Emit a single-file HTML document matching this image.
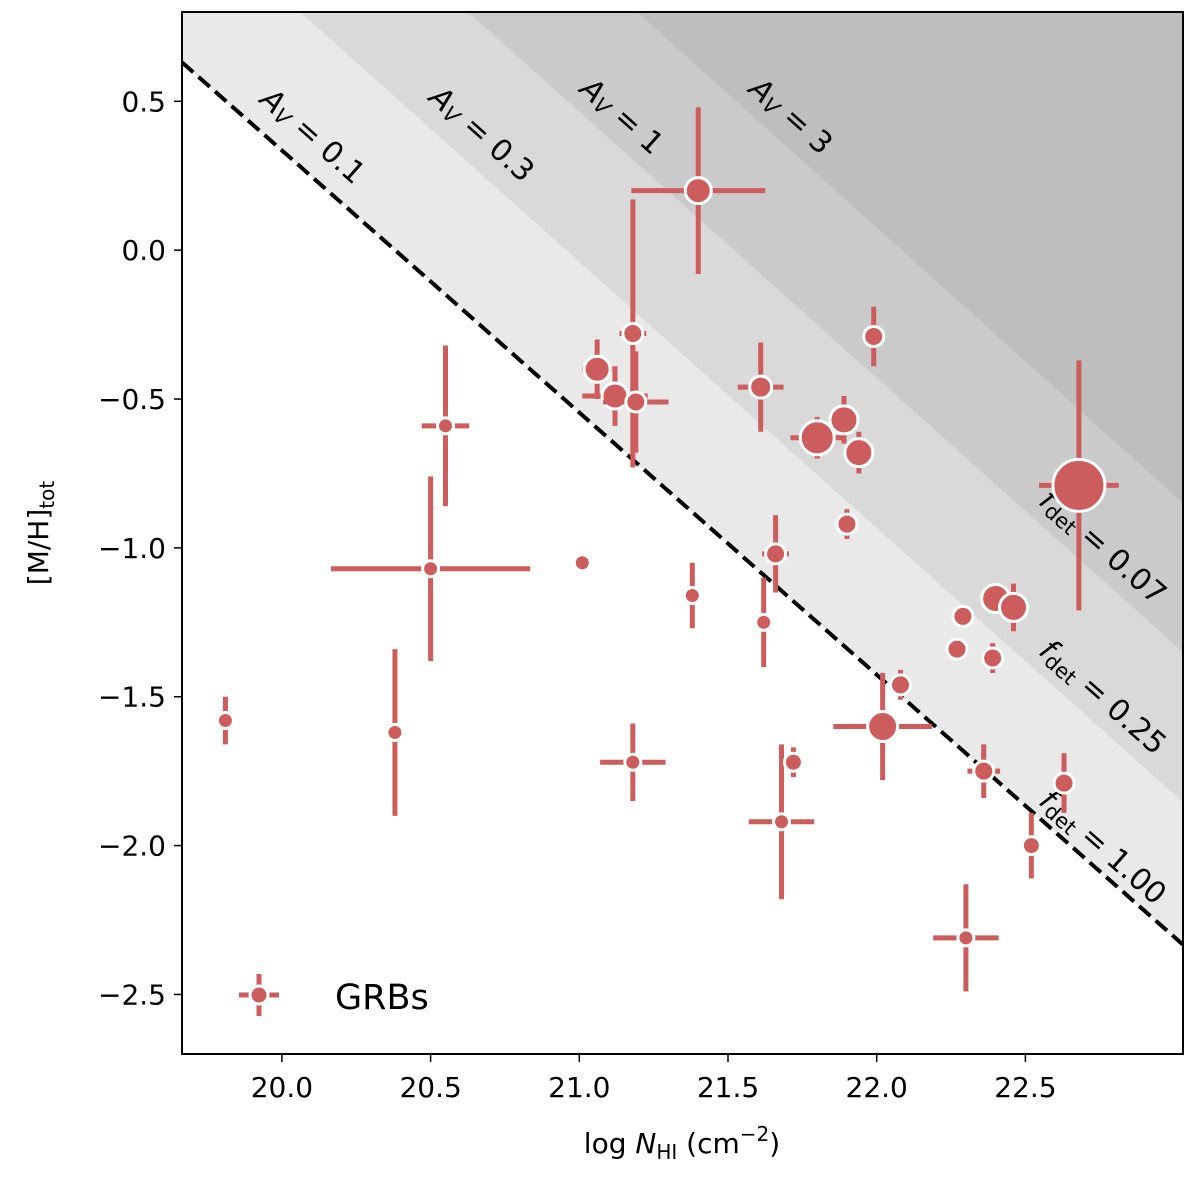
<!DOCTYPE html>
<html><head><meta charset="utf-8"><style>
html,body{margin:0;padding:0;background:#fff;}
svg{display:block;font-family:"DejaVu Sans","Liberation Sans",sans-serif;}
</style></head><body>
<svg id="chart" width="1200" height="1179" viewBox="0 0 1200 1179" xmlns="http://www.w3.org/2000/svg">
<g id="shading"></g>
<g id="refline"></g>
<g id="labels"></g>
<g id="series"></g>
<g id="axes"></g>
</svg>
<script>
// ---- data ----
const xVals = [19.81,20.38,20.50,20.55,21.01,21.06,21.12,21.18,21.19,21.40,21.61,21.99,21.80,21.89,21.94,21.90,21.38,21.62,21.66,21.18,21.68,21.72,22.02,22.08,22.29,22.27,22.40,22.46,22.39,22.36,22.63,22.52,22.30,22.68];
const yVals = [-1.58,-1.62,-1.07,-0.59,-1.05,-0.40,-0.49,-0.28,-0.51,0.20,-0.46,-0.29,-0.63,-0.57,-0.68,-0.92,-1.16,-1.25,-1.02,-1.72,-1.92,-1.72,-1.60,-1.46,-1.23,-1.34,-1.17,-1.20,-1.37,-1.75,-1.79,-2.00,-2.31,-0.79];
const xErr = [0,0,0.335,0.08,0,0.05,0.11,0.045,0.11,0.225,0.077,0,0.09,0,0,0,0,0,0.045,0.11,0.11,0,0.166,0,0,0,0,0,0,0.055,0,0,0.11,0.134];
const yErr = [0.08,0.28,0.31,0.27,0,0.10,0.10,0.45,0.17,0.28,0.15,0.10,0.07,0.08,0.07,0.05,0.11,0.15,0.13,0.13,0.26,0.05,0.18,0.05,0,0,0.05,0.08,0.05,0.09,0.10,0.11,0.18,0.42];
const markerSize = [8,8,8,8,8,13,13,10,10,13,11,10,17,14,14,10,8,8,10,8,8,9,15,10,10,10,14,14,10,10,10,9,8,26];
const xTicks = [20.0,20.5,21.0,21.5,22.0,22.5];
const xTickLabels = ["20.0","20.5","21.0","21.5","22.0","22.5"];
const yTicks = [0.5,0.0,-0.5,-1.0,-1.5,-2.0,-2.5];
const yTickLabels = ["0.5","0.0","\u22120.5","\u22121.0","\u22121.5","\u22122.0","\u22122.5"];
// boundary lines (data coords): [x1,y1,x2,y2]
const dashedLine = [19.664,0.631,23.029,-2.332];
const bandLines = [[20.061,0.8,23.030,-1.854],[20.626,0.8,23.030,-1.350],[21.194,0.8,23.030,-0.849]];
const shadeColors = ["#d9d9d9","#cacaca","#bebebe"];

// ---- scales ----
const L=182,R=1183,T=12,B=1054, X0=19.664,X1=23.03,Y0=-2.7,Y1=0.8;
const sx = v => L+(v-X0)/(X1-X0)*(R-L);
const sy = v => T+(Y1-v)/(Y1-Y0)*(B-T);
const NS="http://www.w3.org/2000/svg";
function mk(tag, attrs, parent){const e=document.createElementNS(NS,tag);for(const k in attrs)e.setAttribute(k,attrs[k]);parent.appendChild(e);return e;}
const RED="#cd5c5c";

function clip(poly, line){
  const ax=sx(line[0]),ay=sy(line[1]),bx=sx(line[2]),by=sy(line[3]);
  const side=(p)=> (bx-ax)*(p[1]-ay)-(by-ay)*(p[0]-ax);
  const ref=side([R,T]);
  const inside=p=>side(p)*ref>=0;
  const out=[];
  for(let i=0;i<poly.length;i++){
    const c=poly[i],n=poly[(i+1)%poly.length];
    const ci=inside(c),ni=inside(n);
    if(ci)out.push(c);
    if(ci!==ni){const s1=side(c),s2=side(n),t=s1/(s1-s2);out.push([c[0]+t*(n[0]-c[0]),c[1]+t*(n[1]-c[1])]);}
  }
  return out;
}
const rect=[[L,T],[R,T],[R,B],[L,B]];
const sh=document.getElementById('shading');
let p0=clip(rect,dashedLine);
const base=mk('polygon',{points:p0.map(p=>p.join(',')).join(' '),fill:'#e9e9e9'},sh);


for(let i=0;i<3;i++){
  let p=clip(rect,bandLines[i]);
  const e=mk('polygon',{points:p.map(q=>q.join(',')).join(' '),fill:shadeColors[i]},sh);
  
  
}
const dl=mk('line',{x1:sx(dashedLine[0]),y1:sy(dashedLine[1]),x2:sx(dashedLine[2]),y2:sy(dashedLine[3]),stroke:'#000','stroke-width':4,'stroke-dasharray':'15,7'},document.getElementById('refline'));



// labels
const lab=document.getElementById('labels');
function avLabel(cx,cy,val,name){
  const t=mk('text',{x:cx,y:cy,'font-size':30,'text-anchor':'middle','dominant-baseline':'middle',transform:`rotate(41.5 ${cx} ${cy})`,fill:'#000'},lab);
  
  
  t.innerHTML='<tspan font-style="italic">A</tspan><tspan font-size="21" font-style="italic" baseline-shift="-6">V</tspan> = '+val;
}
avLabel(312,137,'0.1','av-0.1-label');
avLabel(481,135,'0.3','av-0.3-label');
avLabel(621,117,'1','av-1-label');
avLabel(790,117,'3','av-3-label');
function fLabel(cx,cy,val,name){
  const t=mk('text',{x:cx,y:cy,'font-size':30,'text-anchor':'middle','dominant-baseline':'middle',transform:`rotate(41.4 ${cx} ${cy})`,fill:'#000'},lab);
  
  
  t.innerHTML='<tspan font-style="italic">f</tspan><tspan font-size="21" baseline-shift="-7">det</tspan> = '+val;
}
fLabel(1102,548,'0.07','fdet-0.07-label');
fLabel(1102,698,'0.25','fdet-0.25-label');
fLabel(1102,848,'1.00','fdet-1.00-label');

// series
const ser=document.getElementById('series');
for(let i=0;i<xVals.length;i++){
  const g=mk('g',{},ser);
  
  
  const cx=sx(xVals[i]),cy=sy(yVals[i]);
  if(xErr[i]>0)mk('line',{x1:sx(xVals[i]-xErr[i]),y1:cy,x2:sx(xVals[i]+xErr[i]),y2:cy,stroke:RED,'stroke-width':5},g);
  if(yErr[i]>0)mk('line',{x1:cx,y1:sy(yVals[i]+yErr[i]),x2:cx,y2:sy(yVals[i]-yErr[i]),stroke:RED,'stroke-width':5},g);
  mk('circle',{cx:cx,cy:cy,r:markerSize[i],fill:RED,stroke:'#fff','stroke-width':3},g);
}

// axes
const ax=document.getElementById('axes');
const fr=mk('rect',{x:L,y:T,width:R-L,height:B-T,fill:'none',stroke:'#000','stroke-width':2},ax);


xTicks.forEach((v,i)=>{
  const x=sx(v);
  mk('line',{x1:x,y1:B,x2:x,y2:B+8,stroke:'#000','stroke-width':1.5},ax);
  const t=mk('text',{x:x,y:B+43,'font-size':28,'text-anchor':'middle'},ax);
  
  
  t.textContent=xTickLabels[i];
});
yTicks.forEach((v,i)=>{
  const y=sy(v);
  mk('line',{x1:L-8,y1:y,x2:L,y2:y,stroke:'#000','stroke-width':1.5},ax);
  const t=mk('text',{x:L-16,y:y+10,'font-size':28,'text-anchor':'end'},ax);
  
  
  t.textContent=yTickLabels[i];
});
</script>
<svg style="position:absolute;left:0;top:0" width="1200" height="1179">
<text x="682" y="1153" font-size="28" text-anchor="middle" font-family="DejaVu Sans, Liberation Sans, sans-serif">log <tspan font-style="italic">N</tspan><tspan font-size="20" baseline-shift="-6">HI</tspan> (cm<tspan font-size="20" baseline-shift="12">−2</tspan>)</text>
<text x="48" y="533" font-size="28" text-anchor="middle" transform="rotate(-90 48 533)" font-family="DejaVu Sans, Liberation Sans, sans-serif">[M/H]<tspan font-size="20" baseline-shift="-6">tot</tspan></text>
<g>
<line x1="239" y1="995" x2="279" y2="995" stroke="#cd5c5c" stroke-width="5" stroke-dasharray="11,18"/>
<line x1="259" y1="974" x2="259" y2="1016" stroke="#cd5c5c" stroke-width="5"/>
<circle cx="259" cy="995" r="9" fill="#cd5c5c" stroke="#fff" stroke-width="3"/>
<text x="335" y="1009" font-size="35" font-family="DejaVu Sans, Liberation Sans, sans-serif">GRBs</text>
</g>
</svg>
</body></html>
